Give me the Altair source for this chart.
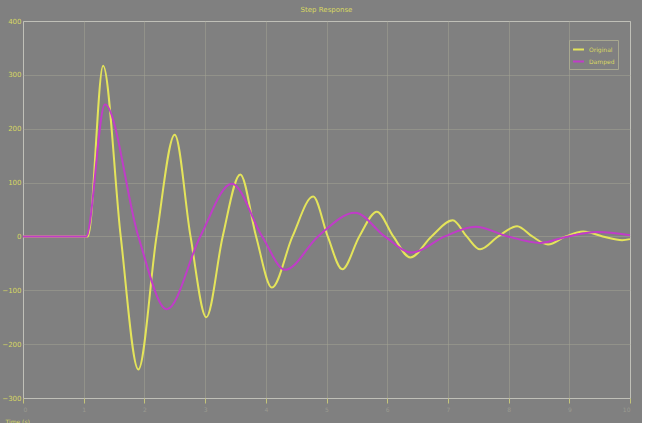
import altair as alt
import pandas as pd

# Time axis (divisions) and response of the two traces
t_a = [0.0, 1.07, 1.32, 1.61, 1.90, 2.20, 2.50, 2.76, 3.02, 3.29, 3.58, 3.84, 4.10,
       4.44, 4.78, 5.02, 5.26, 5.54, 5.83, 6.10, 6.38, 6.73, 7.08, 7.31, 7.53, 7.83,
       8.14, 8.39, 8.65, 8.94, 9.23, 9.55, 9.87, 10.0]
v_a = [0, 0, 317, 0, -247, 0, 189, 0, -150, 0, 115, 0, -95, 0, 74, 0, -61, 0, 46, 0,
       -39, 0, 30, 0, -24, 0, 19, 0, -15, 0, 9, 0, -7, -5]

t_b = [0.0, 1.04, 1.35, 1.90, 2.37, 2.92, 3.44, 3.94, 4.32, 4.86, 5.47, 5.96, 6.41,
       6.95, 7.45, 7.99, 8.52, 8.98, 9.46, 10.0]
v_b = [0, 0, 245, 0, -135, 0, 98, 0, -62, 0, 44, 0, -30, 0, 18, 0, -12, 0, 8, 2]

series = ["Original", "Damped"]
colors = ["#e4e45a", "#c03cc8"]

df = pd.concat([
    pd.DataFrame({"t": t_a, "v": v_a, "s": series[0]}),
    pd.DataFrame({"t": t_b, "v": v_b, "s": series[1]}),
])

frame = "#c4c47a"
txt = "#d8d862"

chart = alt.Chart(df).mark_line(interpolate="monotone", strokeWidth=2).encode(
    x=alt.X("t:Q", scale=alt.Scale(domain=[0, 10], nice=False),
            axis=alt.Axis(values=list(range(0, 11)), title="Time (s)",
                          labelFontSize=6, labelColor="#9a9a90", labelPadding=3,
                          tickColor=frame, tickSize=5, domain=False,
                          grid=True, gridColor="#a4a494", gridOpacity=0.5,
                          titleFontSize=6, titleColor=txt, titleFontWeight="normal",
                          titleAnchor="start", titleAlign="left",
                          titleX=-18, titleY=20)),
    y=alt.Y("v:Q", scale=alt.Scale(domain=[-300, 400], nice=False),
            axis=alt.Axis(values=list(range(-300, 401, 100)), title=None,
                          labelFontSize=7, labelColor=txt, labelPadding=2,
                          tickSize=0, domain=False,
                          grid=True, gridColor="#a4a494", gridOpacity=0.5)),
    color=alt.Color("s:N", scale=alt.Scale(domain=series, range=colors),
                    sort=series,
                    legend=alt.Legend(title=None, orient="none", legendX=546,
                                      legendY=19, direction="vertical",
                                      symbolType="stroke", symbolStrokeWidth=2,
                                      symbolSize=120, labelFontSize=6,
                                      labelColor=txt, fillColor="#808080",
                                      strokeColor="#a8a890", padding=3,
                                      rowPadding=1)),
).properties(
    width=607,
    height=377,
    title=alt.TitleParams("Step Response", fontSize=7, color=txt,
                          fontWeight="normal", offset=4),
    background="#808080",
    padding={"left": 23, "top": 21, "right": 12, "bottom": 25},
    autosize=alt.AutoSizeParams(type="none"),
).configure_view(
    stroke=frame, strokeWidth=2, fill="#808080"
).configure(font="DejaVu Sans")

chart.save("out.html", embed_options={"renderer": "svg", "actions": False})
